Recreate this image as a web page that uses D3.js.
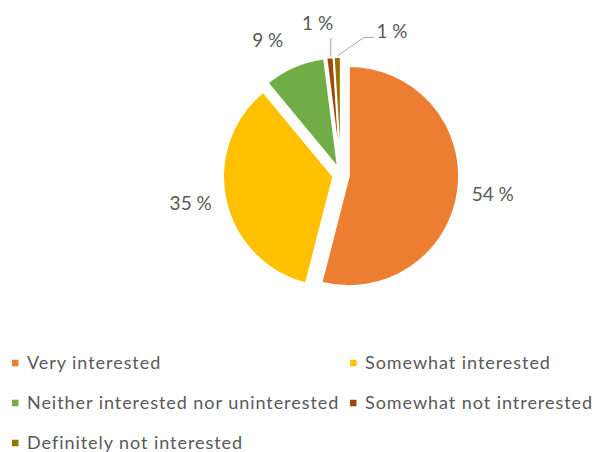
<!DOCTYPE html>
<html>
<head>
<meta charset="utf-8">
<script src="https://cdn.jsdelivr.net/npm/d3@7"></script>
<style>
  html, body { margin: 0; padding: 0; background: #fff; }
  svg { display: block; }
  text { font-family: Lato, "Noto Sans", sans-serif; fill: #595959; }
</style>
</head>
<body>
<svg id="chart" width="596" height="452"></svg>
<script>
// Survey answers and their shares (percent)
const categories = [
  "Very interested",
  "Somewhat interested",
  "Neither interested nor uninterested",
  "Somewhat not intrerested",
  "Definitely not interested"
];
const shares = [54, 35, 9, 1, 1];
const sliceColors = ["#ED7D31", "#FFC000", "#70AD47", "#9E480E", "#997300"];

// Layout
const W = 596, H = 452;
const cx = 341, cy = 175;
const radius = 110;
const explode = 8;
const labelRadius = 145;
// Angular nudges (degrees) that keep the data labels apart
const labelShift = [0, 2, -5.5, -3.6, 22.5];

const svg = d3.select("#chart");
svg.append("rect").attr("width", W).attr("height", H).attr("fill", "#fff");

const pie = d3.pie().sort(null).value(d => d);
const arcs = pie(shares);
const arc = d3.arc().innerRadius(0).outerRadius(radius);

const color = d3.scaleOrdinal().domain(categories).range(sliceColors);

const root = svg.append("g").attr("transform", `translate(${cx},${cy})`);

function polar(r, a) { return [r * Math.sin(a), -r * Math.cos(a)]; }

// Each slice is pulled out from the centre along its mid angle
arcs.forEach(d => {
  const mid = (d.startAngle + d.endAngle) / 2;
  const [ox, oy] = polar(explode, mid);
  d.ox = ox; d.oy = oy; d.mid = mid;
});

root.selectAll("path.slice")
  .data(arcs)
  .join("path")
  .attr("class", "slice")
  .attr("transform", d => `translate(${d.ox},${d.oy})`)
  .attr("d", arc)
  .attr("fill", (d, i) => color(categories[i]))
  .attr("stroke", "#fff")
  .attr("stroke-width", 1.75)
  .attr("stroke-linejoin", "miter");

// Data label positions
const labelFont = 19;
arcs.forEach((d, i) => {
  const a = d.mid + labelShift[i] * Math.PI / 180;
  const [lx, ly] = polar(labelRadius, a);
  d.lx = d.ox + lx; d.ly = d.oy + ly;
});

// Leader lines for the small slices whose labels sit away from them
arcs.forEach(d => {
  if (d.value >= 5) return;
  const [px, py] = polar(radius + 1, d.mid);
  const sx = d.ox + px, sy = d.oy + py;
  let pts;
  if (d.lx > sx + 10) {
    pts = [[sx, sy], [d.lx - 28, d.ly + 6], [d.lx - 18, d.ly + 6]];
  } else {
    pts = [[sx + 1, sy], [sx + 1, d.ly + 14]];
  }
  root.append("polyline")
    .attr("points", pts.map(p => p.join(",")).join(" "))
    .attr("fill", "none")
    .attr("stroke", "#A6A6A6")
    .attr("stroke-width", 1);
});

root.selectAll("text.label")
  .data(arcs)
  .join("text")
  .attr("class", "label")
  .attr("x", d => d.lx)
  .attr("y", d => d.ly)
  .attr("dy", "0.35em")
  .attr("text-anchor", "middle")
  .style("font-size", labelFont + "px")
  .text(d => `${d.value} %`);

// Legend: two columns, three rows
const legendCols = [12, 350];
const legendRows = [363, 403, 443];
const legendFont = 18;
const legend = svg.append("g");
categories.forEach((c, i) => {
  const col = i % 2, row = Math.floor(i / 2);
  const g = legend.append("g")
    .attr("transform", `translate(${legendCols[col]},${legendRows[row]})`);
  g.append("rect")
    .attr("x", 0).attr("y", -3.25)
    .attr("width", 6.5).attr("height", 6.5)
    .attr("fill", color(c));
  g.append("text")
    .attr("x", 15)
    .attr("y", 0)
    .attr("dy", "0.35em")
    .style("font-size", legendFont + "px")
    .style("letter-spacing", "0.95px")
    .text(c);
});
</script>
</body>
</html>
